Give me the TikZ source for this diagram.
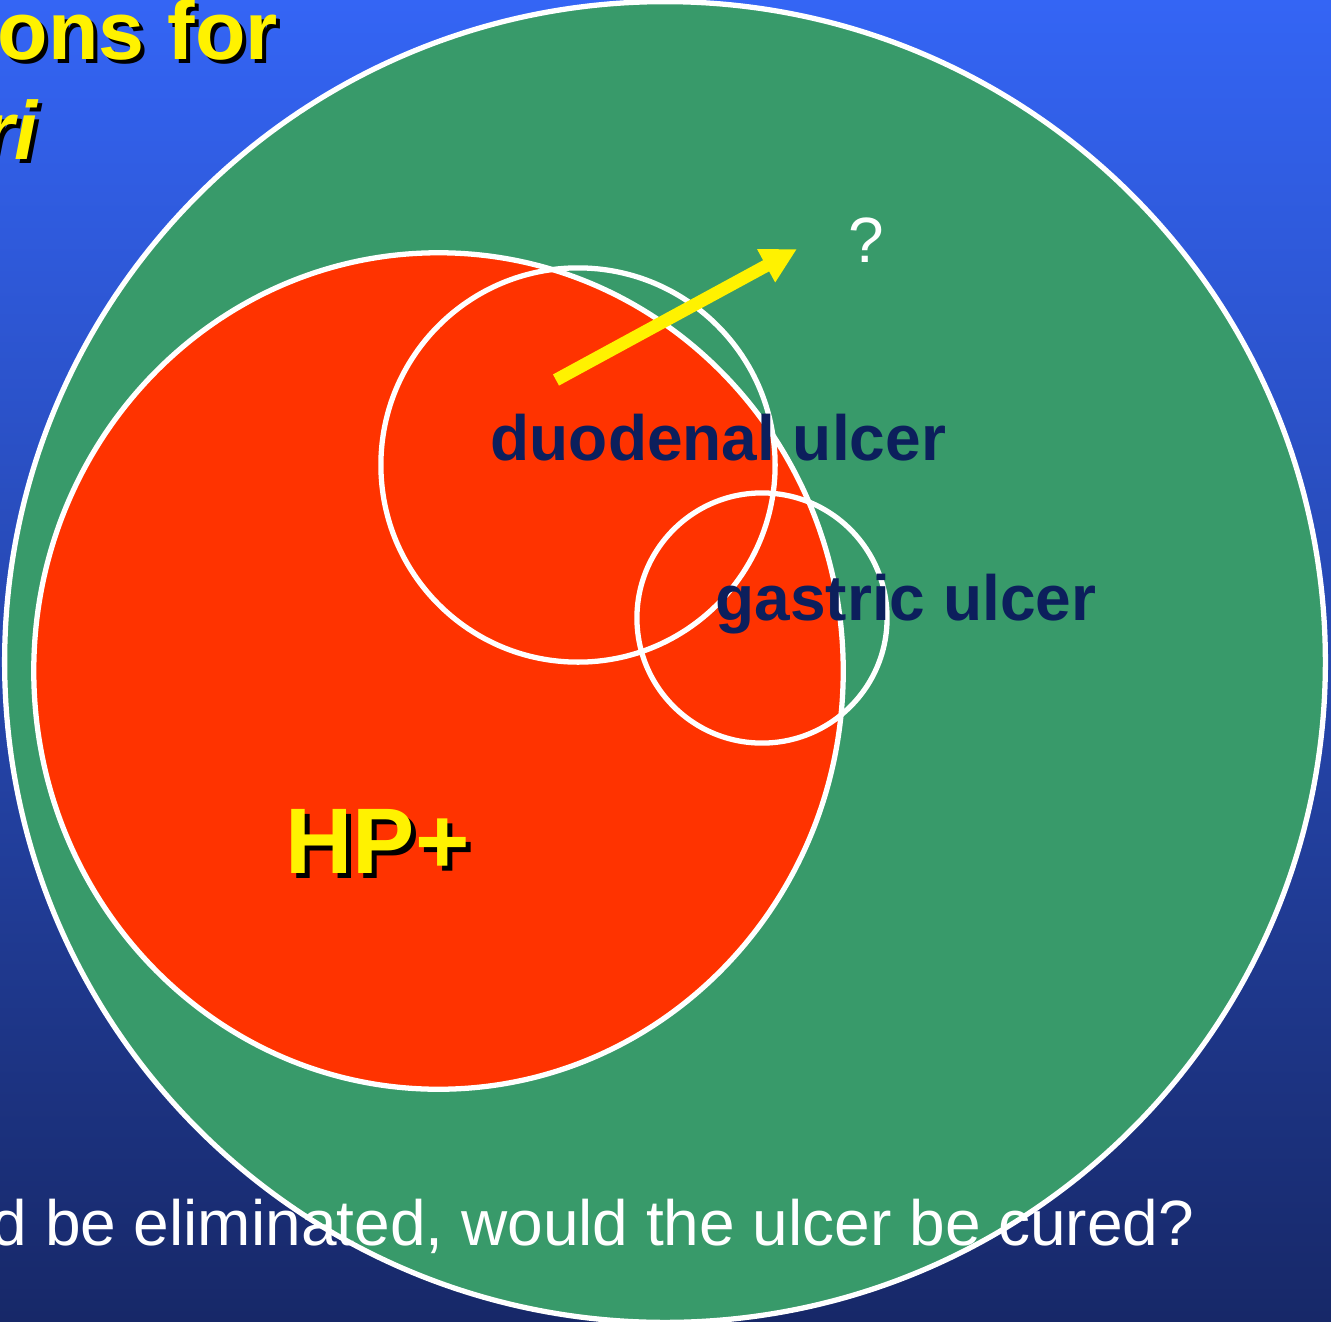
\documentclass[tikz,border=0pt]{standalone}
\usepackage{fontspec}
\setmainfont{Liberation Sans}
\usepackage{xcolor}
\usepackage{tikz}
\usetikzlibrary{arrows.meta, positioning, calc}

\definecolor{bgtop}{HTML}{3465F5}
\definecolor{bgmid}{HTML}{2A4FCF}
\definecolor{bgbot}{HTML}{172868}
\definecolor{ringgreen}{HTML}{389A6A}
\definecolor{hpred}{HTML}{FF3300}
\definecolor{ulcernavy}{HTML}{0C1F5C}

\begin{document}
\begin{tikzpicture}[x=0.01cm, y=-0.01cm,
  ring/.style={draw=white, line width=1.5pt},
  ulcertext/.style={anchor=base west, inner sep=0pt, text=ulcernavy,
    font=\bfseries\fontsize{18.2}{20}\selectfont},
  titletext/.style={anchor=base west, inner sep=0pt,
    font=\bfseries\fontsize{23.5}{26}\selectfont},
  plaintext/.style={anchor=base west, inner sep=0pt, text=white,
    font=\fontsize{18.2}{20}\selectfont}]
  % Frame and background
  \clip (0,0) rectangle (1331,1321);
  \shade[top color=bgtop, middle color=bgmid, bottom color=bgbot] (0,0) rectangle (1331,1321);

  % Centres of the sets
  \coordinate (all) at (665,662);
  \coordinate (hp) at (438.5,671);
  \coordinate (du) at (578,465);
  \coordinate (gu) at (762,618);

  % Draw sets
  \draw[ring, fill=ringgreen] (all) circle [radius=6.6cm];
  \draw[ring, fill=hpred] (hp) ellipse [x radius=4.045cm, y radius=4.18cm];
  \draw[ring] (du) circle [radius=1.97cm];
  \draw[ring] (gu) circle [radius=1.25cm];

  % Arrow out of the ulcer
  \coordinate (arrow tail) at (556,380);
  \coordinate (arrow tip) at (797,249);
  \draw[yellow, line width=3.6pt, -{Triangle[length=10pt, width=10pt]}] (arrow tail) -- (arrow tip);
  \node[plaintext] (question) at (848,262) {?};

  % Labels
  \node[ulcertext] (du label) at (490,460) {duodenal ulcer};
  \node[ulcertext] (gu label) at (715,620) {gastric ulcer};
  \node[anchor=base west, inner sep=0pt, font=\bfseries\fontsize{26.5}{28}\selectfont]
    (hp shadow) at (290,878) {HP+};
  \node[anchor=base west, inner sep=0pt, text=yellow, font=\bfseries\fontsize{26.5}{28}\selectfont]
    (hp label) at (285,873) {HP+};

  % Title (cut by the frame)
  \node[titletext] (title shadow a) at (1,63) {ons for};
  \node[titletext, text=yellow] (title a) at (-3,59) {ons for};
  \node[titletext] (title shadow b) at (-14,163) {\itshape ri};
  \node[titletext, text=yellow] (title b) at (-18,159) {\itshape ri};

  % Question at the bottom
  \node[plaintext] (bottom line) at (-9,1245) {d be eliminated, would the ulcer be cured?};
\end{tikzpicture}
\end{document}
